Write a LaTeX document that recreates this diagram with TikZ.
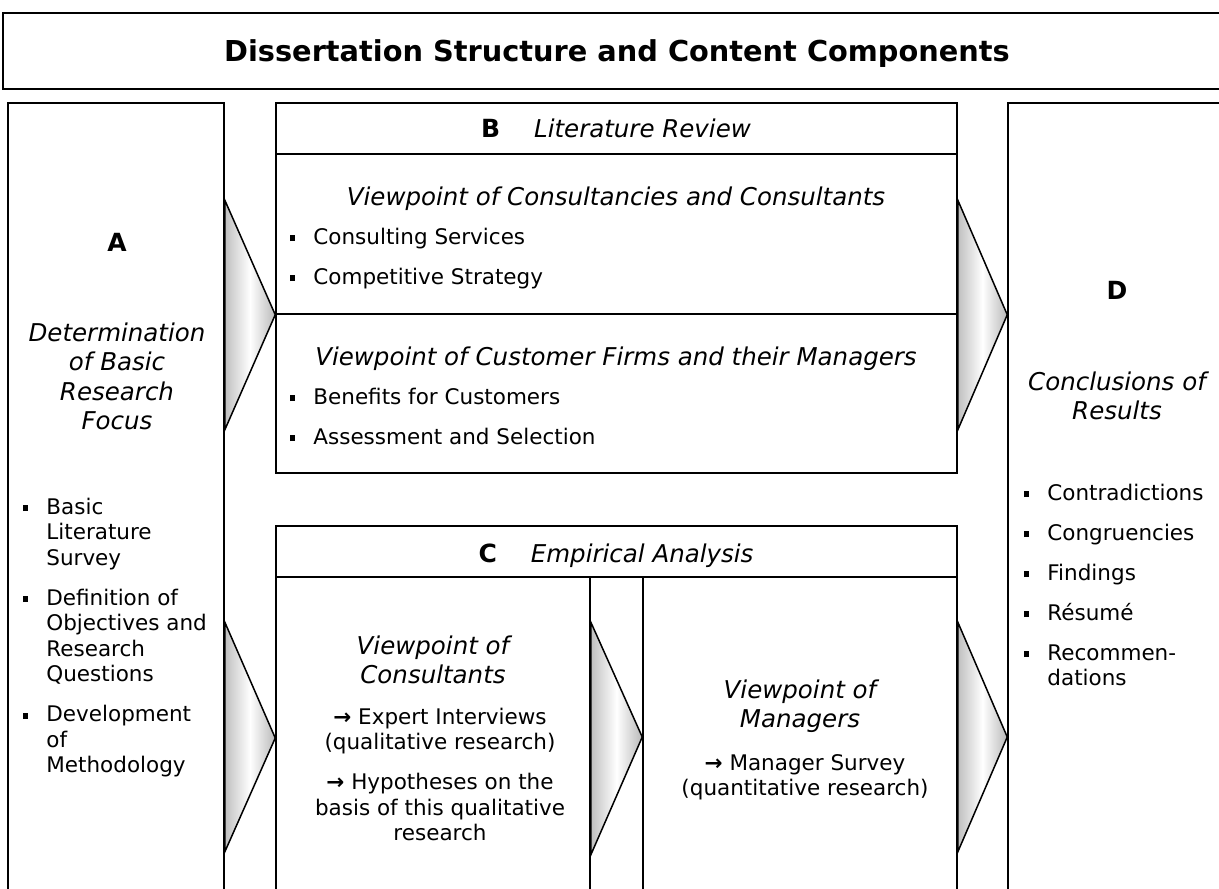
\documentclass[tikz,border=0pt]{standalone}
\usepackage{fontspec}
\setmainfont{DejaVu Sans}
\usetikzlibrary{fit}

% font sizes (1 unit = 0.5pt)
\newcommand{\bodyfont}{\fontsize{10.75}{12.75}\selectfont}
\newcommand{\headfont}{\fontsize{12.25}{14.75}\selectfont\itshape}
\newcommand{\letterfont}{\fontsize{12.5}{15}\selectfont\bfseries\upshape}
% centred lines and bullet items
\newcommand{\rows}[1]{\begin{tabular}[t]{@{}c@{}}#1\end{tabular}}
\newcommand{\items}[1]{\begin{tabular}[t]{@{}l@{}}#1\end{tabular}}
\newcommand{\bul}{\llap{\rule[1.5pt]{2.9pt}{2.9pt}\hspace{9.05pt}}}
\newcommand{\arr}{{\bfseries →}\space}

\begin{document}
\begin{tikzpicture}[x=0.5pt,y=-0.5pt]
\tikzstyle{mybox} = [draw, line width=0.75pt, inner sep=0pt]
\tikzstyle{mychevron} = [draw, line width=0.75pt, line join=miter, left color=gray!50, right color=gray!55, middle color=white]
\tikzstyle{mytext} = [inner sep=0pt, font=\bodyfont]
\tikzstyle{myhead} = [inner sep=0pt, font=\headfont]
\tikzstyle{myletter} = [inner sep=0pt, font=\letterfont]

\useasboundingbox (0,0) rectangle (1219,888);
\clip (0,0) rectangle (1219,888);

% frames
\node[mybox, fit={(3,13) (1240,89)}] (title) {};
\node[mybox, fit={(8,103) (224,910)}] (boxA) {};
\node[mybox, fit={(276,103) (957,154)}] (headB) {};
\node[mybox, fit={(276,154) (957,314)}] (topB) {};
\node[mybox, fit={(276,314) (957,473)}] (botB) {};
\node[mybox, fit={(276,526) (957,577)}] (headC) {};
\node[mybox, fit={(276,577) (590,910)}] (leftC) {};
\node[mybox, fit={(643,577) (957,910)}] (rightC) {};
\node[mybox, fit={(1008,103) (1240,910)}] (boxD) {};

% chevrons
\draw[mychevron] (boxA.east |- 0,200) -- (topB.south west) -- (boxA.east |- 0,430) -- cycle;
\draw[mychevron] (boxA.east |- 0,622) -- (leftC.west |- 0,738) -- (boxA.east |- 0,852) -- cycle;
\draw[mychevron] (leftC.east |- 0,622) -- (rightC.west |- 0,737) -- (leftC.east |- 0,855) -- cycle;
\draw[mychevron] (topB.east |- 0,200) -- (boxD.west |- topB.south) -- (topB.east |- 0,430) -- cycle;
\draw[mychevron] (rightC.east |- 0,622) -- (boxD.west |- 0,737) -- (rightC.east |- 0,852) -- cycle;

% title
\node[inner sep=0pt, font=\fontsize{14.4}{16}\selectfont\bfseries] (T) at (617,54) {Dissertation Structure and Content Components};

% A
\node[myletter, anchor=base] (A1) at (117,251) {A};
\node[myhead, anchor=base] (A2) at (117,341) {\rows{Determination\\of Basic\\Research\\Focus}};
\node[mytext, anchor=base west] (A3) at (46,514) {\items{\bul Basic\\Literature\\Survey\\[7.25pt]
  \bul Definition of\\Objectives and\\Research\\Questions\\[7.25pt]
  \bul Development\\of\\Methodology}};

% B
\node[myhead, anchor=base] (B1) at (616,137) {{\letterfont B}\hspace{17pt}Literature Review};
\node[myhead, anchor=base] (B2) at (616,205) {Viewpoint of Consultancies and Consultants};
\node[mytext, anchor=base west] (B3) at (313,244) {\items{\bul Consulting Services\\[7.25pt]\bul Competitive Strategy}};
\node[myhead, anchor=base] (B4) at (616,365) {Viewpoint of Customer Firms and their Managers};
\node[mytext, anchor=base west] (B5) at (313,404) {\items{\bul Benefits for Customers\\[7.25pt]\bul Assessment and Selection}};

% C
\node[myhead, anchor=base] (C1) at (616,562) {{\letterfont C}\hspace{17pt}Empirical Analysis};
\node[myhead, anchor=base] (C2) at (433,654) {\rows{Viewpoint of\\Consultants}};
\node[mytext, anchor=base] (C3) at (440,724) {\rows{\arr Expert Interviews\\(qualitative research)\\[7.25pt]
  \arr Hypotheses on the\\basis of this qualitative\\research}};
\node[myhead, anchor=base] (C4) at (800,698) {\rows{Viewpoint of\\Managers}};
\node[mytext, anchor=base] (C5) at (805,770) {\rows{\arr Manager Survey\\(quantitative research)}};

% D
\node[myletter, anchor=base] (D1) at (1117,299) {D};
\node[myhead, anchor=base] (D2) at (1117,390) {\rows{Conclusions of\\Results}};
\node[mytext, anchor=base west] (D3) at (1047,500) {\items{\bul Contradictions\\[7.25pt]\bul Congruencies\\[7.25pt]
  \bul Findings\\[7.25pt]\bul Résumé\\[7.25pt]\bul Recommen-\\dations}};

\end{tikzpicture}
\end{document}
